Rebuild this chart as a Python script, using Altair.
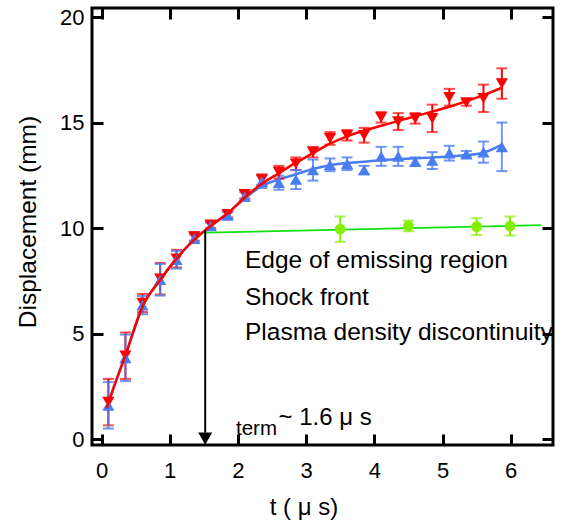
import altair as alt
import pandas as pd

FONT = "Liberation Sans"
RED = "#FF0000"
BLUE = "#4A7DF2"
GREEN_LINE = "#11E011"
LIME = "#84F000"

# ---- data ----
t_points = [0.1, 0.35, 0.6, 0.86, 1.1, 1.36, 1.6, 1.85, 2.1, 2.35, 2.6, 2.85,
            3.1, 3.35, 3.6, 3.85, 4.1, 4.35, 4.6, 4.85, 5.1, 5.35, 5.6, 5.87]
shock_d = [1.75, 3.95, 6.45, 7.6, 8.55, 9.6, 10.15, 10.65, 11.6, 12.3, 12.65, 13.05,
           13.6, 14.25, 14.4, 14.4, 15.25, 15.05, 15.2, 15.2, 16.2, 15.95, 16.15, 16.85]
shock_err = [1.1, 1.1, 0.43, 0.75, 0.42, 0.2, 0.15, 0.15, 0.2, 0.25, 0.3, 0.3,
             0.25, 0.3, 0.25, 0.35, 0.25, 0.4, 0.25, 0.65, 0.4, 0.15, 0.65, 0.72]
plasma_d = [1.6, 3.85, 6.35, 7.55, 8.5, 9.5, 10.1, 10.6, 11.5, 12.2, 12.15, 12.3,
            12.75, 13.0, 13.05, 12.75, 13.4, 13.4, 13.15, 13.2, 13.55, 13.5, 13.6, 13.85]
plasma_err = [1.1, 1.1, 0.43, 0.75, 0.42, 0.2, 0.15, 0.15, 0.2, 0.3, 0.33, 0.45,
              0.5, 0.3, 0.3, 0.2, 0.45, 0.45, 0.2, 0.4, 0.35, 0.15, 0.5, 1.15]

edge_t = [3.5, 4.5, 5.5, 5.99]
edge_d = [9.95, 10.1, 10.07, 10.1]
edge_err = [0.6, 0.25, 0.4, 0.45]

shock_fit_t = [0.076, 0.1, 0.36, 0.61, 0.86, 1.08, 1.36, 1.6, 1.85, 2.1, 2.35, 2.6,
               2.85, 3.1, 3.35, 3.6, 4.1, 4.6, 5.1, 5.6, 5.87]
shock_fit_d = [1.45, 1.7, 4.06, 6.35, 7.54, 8.48, 9.45, 10.1, 10.7, 11.45, 12.1, 12.6,
               13.1, 13.55, 14.0, 14.35, 14.85, 15.3, 15.75, 16.3, 16.65]
plasma_fit_t = [0.076, 0.1, 0.36, 0.61, 0.86, 1.08, 1.36, 1.6, 1.85, 2.1, 2.35, 2.6,
                2.85, 3.1, 3.35, 3.85, 4.35, 4.85, 5.35, 5.6, 5.87]
plasma_fit_d = [1.45, 1.7, 4.06, 6.35, 7.54, 8.48, 9.45, 10.1, 10.7, 11.4, 12.0, 12.3,
                12.55, 12.8, 12.98, 13.14, 13.27, 13.35, 13.46, 13.57, 13.95]
edge_fit_t = [1.52, 6.45]
edge_fit_d = [9.78, 10.14]

t_term = 1.52
x_ticks = [0, 1, 2, 3, 4, 5, 6]
y_ticks = [0, 5, 10, 15, 20]
legend_lines = ["Edge of emissing region", "Shock front", "Plasma density discontinuity"]
term_sub = "term"
term_text = "~ 1.6 μ s"

# ---- tables ----
pts = pd.DataFrame({
    "t": t_points,
    "red": shock_d,
    "red_lo": [d - e for d, e in zip(shock_d, shock_err)],
    "red_hi": [d + e for d, e in zip(shock_d, shock_err)],
    "blue": plasma_d,
    "blue_lo": [d - e for d, e in zip(plasma_d, plasma_err)],
    "blue_hi": [d + e for d, e in zip(plasma_d, plasma_err)],
})
gpts = pd.DataFrame({
    "t": edge_t,
    "d": edge_d,
    "lo": [d - e for d, e in zip(edge_d, edge_err)],
    "hi": [d + e for d, e in zip(edge_d, edge_err)],
})
red_fit = pd.DataFrame({"t": shock_fit_t, "d": shock_fit_d})
blue_fit = pd.DataFrame({"t": plasma_fit_t, "d": plasma_fit_d})
green_fit = pd.DataFrame({"t": edge_fit_t, "d": edge_fit_d})
arrow = pd.DataFrame({"t": [t_term], "top": [9.9], "bot": [0.3], "tip": [0.02]})

xs = alt.Scale(domain=[-0.14, 6.62], nice=False, zero=False)
ys = alt.Scale(domain=[-0.28, 20.43], nice=False, zero=False)


def X(f):
    return alt.X(f, type="quantitative", scale=xs, axis=None)


def Y(f):
    return alt.Y(f, type="quantitative", scale=ys, axis=None)


ax_bottom = alt.Axis(orient="bottom", values=x_ticks, tickSize=11, tickWidth=3,
                     tickColor="black", domain=False, offset=-11, grid=False,
                     labelFont=FONT, labelFontSize=22, labelColor="black",
                     labelPadding=15, labelAngle=0, format="d",
                     title="t ( μ s)", titleFont=FONT, titleFontSize=24,
                     titleFontWeight="normal", titleColor="black",
                     titleX=211.5, titleY=80, titleBaseline="alphabetic",
                     titleAlign="center")
ax_left = alt.Axis(orient="left", values=y_ticks, tickSize=11, tickWidth=3,
                   tickColor="black", domain=False, offset=-11, grid=False,
                   labelFont=FONT, labelFontSize=22, labelColor="black",
                   labelPadding=8, format="d",
                   title="Displacement (mm)", titleFont=FONT, titleFontSize=24.5,
                   titleFontWeight="normal", titleColor="black",
                   titleX=-68, titleY=213.5, titleAngle=270,
                   titleBaseline="alphabetic", titleAlign="center")
ax_top = alt.Axis(orient="top", values=x_ticks, tickSize=11, tickWidth=3,
                  tickColor="black", domain=False, offset=-11, grid=False,
                  labels=False, title="")
ax_right = alt.Axis(orient="right", values=y_ticks, tickSize=11, tickWidth=3,
                    tickColor="black", domain=False, offset=-11, grid=False,
                    labels=False, title="")

# axes hosts
green_line = alt.Chart(green_fit).mark_line(color=GREEN_LINE, strokeWidth=1.8).encode(
    x=alt.X("t:Q", scale=xs, axis=ax_bottom),
    y=alt.Y("d:Q", scale=ys, axis=ax_left),
)
axes_tr = alt.Chart(green_fit).mark_line(opacity=0).encode(
    x=alt.X("t:Q", scale=xs, axis=ax_top),
    y=alt.Y("d:Q", scale=ys, axis=ax_right),
)

blue_line = alt.Chart(blue_fit).mark_line(color=BLUE, strokeWidth=2.5, interpolate="monotone").encode(
    x=X("t"), y=Y("d"))
red_line = alt.Chart(red_fit).mark_line(color=RED, strokeWidth=2.5, interpolate="monotone").encode(
    x=X("t"), y=Y("d"))

base = alt.Chart(pts)
red_err = base.mark_rule(color=RED, strokeWidth=2).encode(x=X("t"), y=Y("red_lo"), y2=alt.Y2("red_hi"))
red_cap_lo = base.mark_tick(color=RED, orient="horizontal", size=11, thickness=2).encode(x=X("t"), y=Y("red_lo"))
red_cap_hi = base.mark_tick(color=RED, orient="horizontal", size=11, thickness=2).encode(x=X("t"), y=Y("red_hi"))
blue_err = base.mark_rule(color=BLUE, strokeWidth=2, opacity=0.8).encode(x=X("t"), y=Y("blue_lo"), y2=alt.Y2("blue_hi"))
blue_cap_lo = base.mark_tick(color=BLUE, orient="horizontal", size=11, thickness=2, opacity=0.8).encode(x=X("t"), y=Y("blue_lo"))
blue_cap_hi = base.mark_tick(color=BLUE, orient="horizontal", size=11, thickness=2, opacity=0.8).encode(x=X("t"), y=Y("blue_hi"))
red_pts = base.mark_point(shape="triangle-down", filled=True, size=150, color=RED, opacity=1).encode(x=X("t"), y=Y("red"))
blue_pts = base.mark_point(shape="triangle-up", filled=True, size=150, color=BLUE, opacity=1).encode(x=X("t"), y=Y("blue"))

gbase = alt.Chart(gpts)
g_err = gbase.mark_rule(color=LIME, strokeWidth=2).encode(x=X("t"), y=Y("lo"), y2=alt.Y2("hi"))
g_cap_lo = gbase.mark_tick(color=LIME, orient="horizontal", size=11, thickness=2).encode(x=X("t"), y=Y("lo"))
g_cap_hi = gbase.mark_tick(color=LIME, orient="horizontal", size=11, thickness=2).encode(x=X("t"), y=Y("hi"))
g_pts = gbase.mark_point(shape="circle", filled=True, size=115, color=LIME, opacity=1).encode(x=X("t"), y=Y("d"))

abase = alt.Chart(arrow)
arrow_line = abase.mark_rule(color="black", strokeWidth=2).encode(x=X("t"), y=Y("top"), y2=alt.Y2("bot"))
arrow_head = abase.mark_point(shape="triangle-down", filled=True, size=196, color="black", opacity=1).encode(
    x=X("t"), y=Y("tip"))

texts = []
legend_y = [260.3, 297, 332]
for line, yy in zip(legend_lines, legend_y):
    texts.append(
        alt.Chart(alt.Data(values=[{"label": line}])).mark_text(
            align="left", baseline="alphabetic", font=FONT, fontSize=24.5, color="black"
        ).encode(x=alt.value(153), y=alt.value(yy), text="label:N")
    )
texts.append(
    alt.Chart(alt.Data(values=[{"label": term_sub}])).mark_text(
        align="left", baseline="alphabetic", font=FONT, fontSize=20.5, color="black"
    ).encode(x=alt.value(144), y=alt.value(427), text="label:N")
)
texts.append(
    alt.Chart(alt.Data(values=[{"label": term_text}])).mark_text(
        align="left", baseline="alphabetic", font=FONT, fontSize=24, color="black"
    ).encode(x=alt.value(186.5), y=alt.value(417), text="label:N")
)

chart = alt.layer(
    green_line, axes_tr, blue_line,
    red_err, red_cap_lo, red_cap_hi,
    blue_err, blue_cap_lo, blue_cap_hi,
    red_pts, blue_pts, red_line,
    g_err, g_cap_lo, g_cap_hi, g_pts,
    arrow_line, arrow_head,
    *texts,
).resolve_axis(x="independent", y="independent").properties(
    width=461, height=437,
    autosize=alt.AutoSizeParams(type="none"),
    padding={"left": 92, "top": 8, "right": 10, "bottom": 84},
    background="white",
).configure_view(stroke="black", strokeWidth=3)

chart.save("out.html", embed_options={"renderer": "svg", "actions": False})
